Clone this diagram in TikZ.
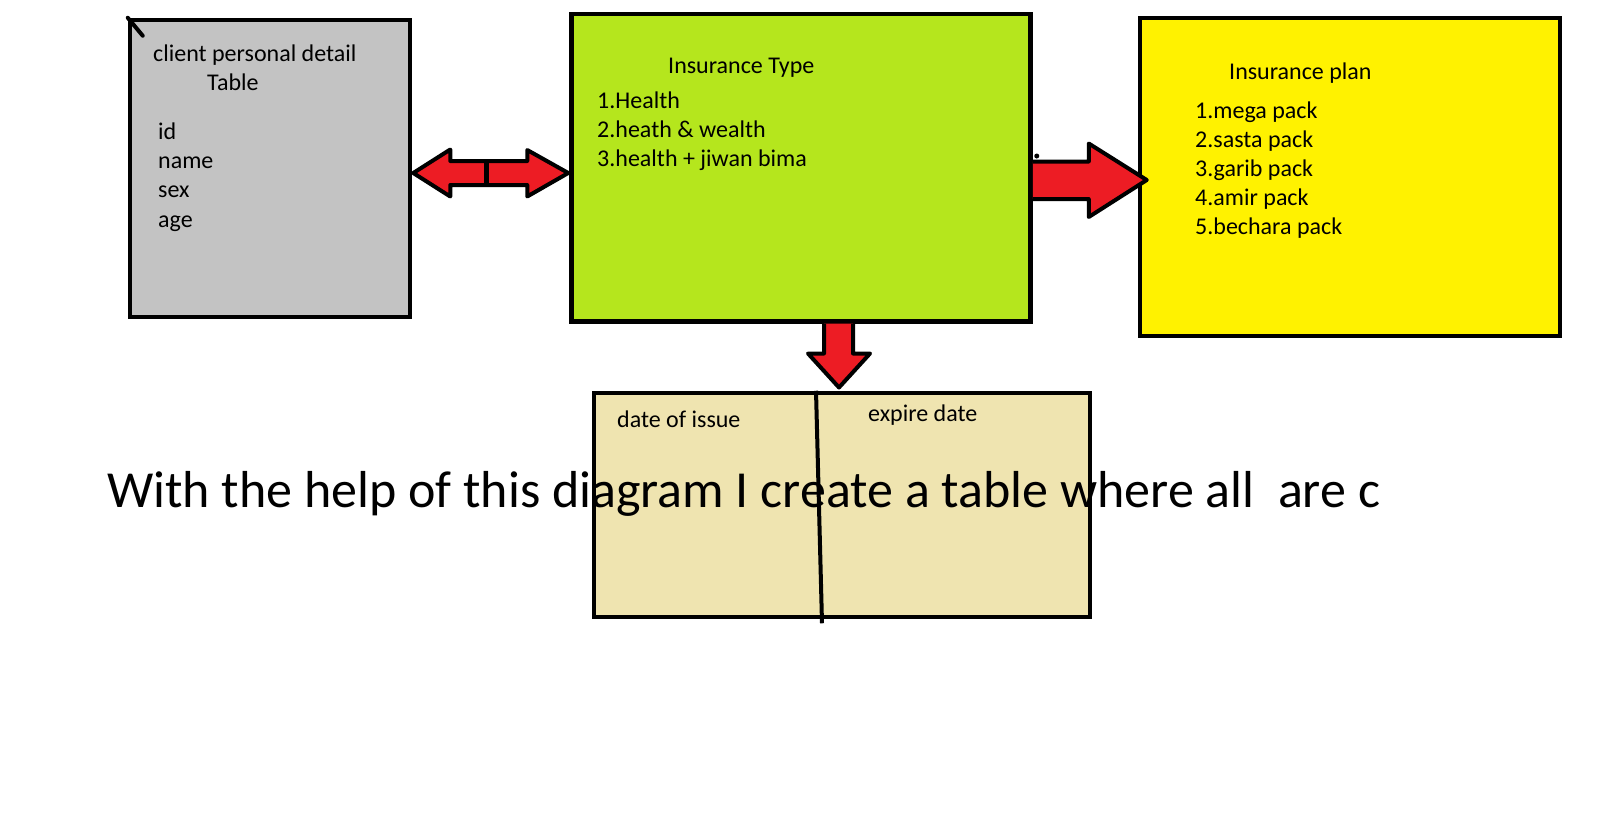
\documentclass[tikz,border=0pt]{standalone}
\usepackage{fontspec}
\setmainfont{Carlito}
\usetikzlibrary{calc}

\definecolor{paintgray}{RGB}{195,195,195}
\definecolor{paintlime}{RGB}{181,230,29}
\definecolor{paintyellow}{RGB}{255,242,0}
\definecolor{paintbeige}{RGB}{239,228,176}
\definecolor{paintred}{RGB}{237,28,36}

\begin{document}
\begin{tikzpicture}[
    x=1pt, y=-1pt,
    tablebox/.style={rectangle, draw=black, line width=4.5pt, inner sep=0pt},
    bigarrow/.style={draw=black, fill=paintred, line width=4pt, line join=round},
    entry/.style={anchor=base west, inner sep=0pt, font=\fontsize{24}{28}\selectfont}
]
    \useasboundingbox (0,0) rectangle (1616,812);

    % Tables
    \node[tablebox, fill=paintgray, minimum width=280pt, minimum height=297pt] (client) at (270,168.5) {};
    \node[tablebox, fill=paintlime, minimum width=459pt, minimum height=307.5pt] (type) at (801,167.5) {};
    \node[tablebox, fill=paintyellow, minimum width=420pt, minimum height=318pt] (plan) at (1350,177) {};
    \node[tablebox, fill=paintbeige, minimum width=496pt, minimum height=224pt] (dates) at (842,505) {};

    % Client table
    \draw[line width=4pt, line cap=round] (client.north west) -- ++(15,18);
    \node[entry] (clienttitle) at (153,61) {client personal detail};
    \node[entry] (clienttable) at (207,90) {Table};
    \foreach \f [count=\i] in {id,name,sex,age}
        \node[entry] (clientfield\i) at (158,{110+29.3*\i}) {\f};

    % Insurance type
    \node[entry] (typetitle) at (668,73) {Insurance Type};
    \foreach \f [count=\i] in {1.Health,2.heath \& wealth,3.health + jiwan bima}
        \node[entry] (typeitem\i) at (597,{79+29*\i}) {\f};

    % Insurance plan
    \node[entry] (plantitle) at (1229,79) {Insurance plan};
    \foreach \f [count=\i] in {1.mega pack,2.sasta pack,3.garib pack,4.amir pack,5.bechara pack}
        \node[entry] (planitem\i) at (1195,{89+29*\i}) {\f};

    % Dates
    \node[entry] (issue) at (617,427) {date of issue};
    \node[entry] (expire) at (868,421) {expire date};

    \node[anchor=base west, inner sep=0pt, font=\fontsize{52}{60}\selectfont] (note) at (107,507)
        {With the help of this diagram I create a table where all\ \ are c};

    \draw[line width=4.5pt] ($(dates.north west)+(2.25,2.25)$) rectangle ($(dates.south east)+(-2.25,-2.25)$);
    \draw[line width=4pt] ($(dates.north)+(-26,0)$) -- ($(dates.south)+(-20,4)$);

    % Links
    \draw[bigarrow] ($(client.east)+(1,4.5)$) -- ++(37,-23.5) -- ++(0,11.5) -- ++(77,0) -- ++(0,-11)
        -- ++(41,23) -- ++(-41,23.5) -- ++(0,-11.5) -- ++(-77,0) -- ++(0,11.5) -- cycle;
    \draw[line width=5pt] ($(client.east)+(74,-7.5)$) -- ++(0,24);

    \draw[bigarrow] ($(type.east)+(0,31.5)$) -- ++(56,0) -- ++(0,18) -- ++(58,-37)
        -- ++(-58,-36.5) -- ++(0,18) -- ++(-56,0);
    \fill ($(type.east)+(4,-11.5)$) circle (2.5);

    \draw[bigarrow] ($(type.south)+(23,0)$) -- ++(0,30) -- ++(-16,0) -- ++(31,34)
        -- ++(31,-34) -- ++(-17,0) -- ++(0,-30);
\end{tikzpicture}
\end{document}
